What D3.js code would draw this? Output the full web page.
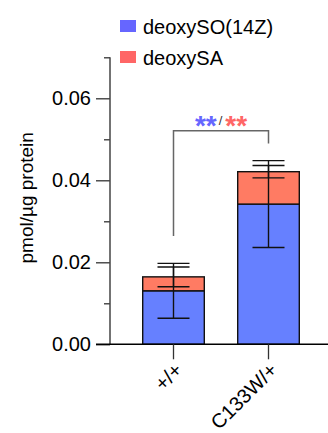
<!DOCTYPE html>
<html>
<head>
<meta charset="utf-8">
<script src="https://cdn.jsdelivr.net/npm/d3@7"></script>
<style>
  html, body { margin: 0; padding: 0; background: #fff; }
  svg { display: block; font-family: "Liberation Sans", Arial, Helvetica, sans-serif; }
</style>
</head>
<body>
<svg id="chart" width="328" height="433"></svg>
<script>
// Genotypes on the x axis
const categories = ["+/+", "C133W/+"];
// Stacked series: mean and SD (pmol/µg protein)
const deoxySO = [0.01305, 0.0342];
const deoxySOsd = [0.0067, 0.0106];
const deoxySA = [0.0034, 0.0079];
const deoxySAsd = [0.0024, 0.0015];
const seriesNames = ["deoxySO(14Z)", "deoxySA"];
const yTicks = [0, 0.02, 0.04, 0.06];
const yMinorTicks = [0.01, 0.03, 0.05, 0.07];

const barColors = ["#6680FF", "#FF7B63"];
const legendColors = ["#6666FF", "#FF6666"];

const svg = d3.select("#chart");

const y = d3.scaleLinear().domain([0, 0.07]).range([344.3, 57.3]);
const x = d3.scalePoint().domain(categories).range([173.5, 268.5]);
const barW = 61.6;
const axisX = 110;

// Stacked layout
const rows = categories.map((c, i) => ({ cat: c, so: deoxySO[i], sa: deoxySA[i], soSd: deoxySOsd[i], saSd: deoxySAsd[i] }));
const stack = d3.stack().keys(["so", "sa"])(rows);

const gBars = svg.append("g");
stack.forEach((layer, k) => {
  gBars.selectAll(null).data(layer).join("rect")
    .attr("x", d => x(d.data.cat) - barW / 2)
    .attr("y", d => y(d[1]))
    .attr("width", barW)
    .attr("height", d => y(d[0]) - y(d[1]))
    .attr("fill", barColors[k])
    .attr("stroke", "#111")
    .attr("stroke-width", 1.4);
});

// Error bars (mean ± SD), drawn at the top of each segment
const capHalf = 16;
const gErr = svg.append("g").attr("stroke", "#111").attr("stroke-width", 1.4);
stack.forEach((layer, k) => {
  layer.forEach(d => {
    const sd = k === 0 ? d.data.soSd : d.data.saSd;
    const cx = x(d.data.cat);
    const lo = y(d[1] - sd), hi = y(d[1] + sd);
    gErr.append("line").attr("x1", cx).attr("x2", cx).attr("y1", lo).attr("y2", hi);
    gErr.append("line").attr("x1", cx - capHalf).attr("x2", cx + capHalf).attr("y1", lo).attr("y2", lo);
    gErr.append("line").attr("x1", cx - capHalf).attr("x2", cx + capHalf).attr("y1", hi).attr("y2", hi);
  });
});

// Y axis
const gY = svg.append("g").attr("transform", `translate(${axisX},0)`);
gY.call(d3.axisLeft(y).tickValues(yTicks).tickFormat(d3.format(".2f")).tickSize(14).tickPadding(5))
  .call(g => g.select(".domain").remove());
gY.selectAll(".tick line").attr("stroke", "#333").attr("stroke-width", 1.3);
gY.selectAll(".tick text").attr("font-size", 20).attr("fill", "#000")
  .attr("font-family", "'Liberation Sans', Arial, sans-serif");
gY.append("g").call(d3.axisLeft(y).tickValues(yMinorTicks).tickFormat("").tickSize(6))
  .call(g => g.select(".domain").remove())
  .selectAll("line").attr("stroke", "#333").attr("stroke-width", 1.3);
gY.append("line").attr("x1", 0).attr("x2", 0).attr("y1", y(0.07)).attr("y2", y(0))
  .attr("stroke", "#444").attr("stroke-width", 1.5);

// X axis
const gX = svg.append("g").attr("transform", `translate(0,${y(0)})`);
gX.append("line").attr("x1", 96).attr("x2", 328).attr("y1", 0).attr("y2", 0)
  .attr("stroke", "#000").attr("stroke-width", 1.5);
gX.selectAll(".xt").data(categories).join("line")
  .attr("x1", d => x(d)).attr("x2", d => x(d)).attr("y1", 0).attr("y2", 15)
  .attr("stroke", "#333").attr("stroke-width", 1.3);
gX.selectAll(".xl").data(categories).join("text")
  .attr("transform", d => `translate(${x(d) + 5},${22}) rotate(-45)`)
  .attr("text-anchor", "end")
  .attr("dy", "0.35em")
  .attr("font-size", 20)
  .text(d => d);

// Y axis title
svg.append("text")
  .attr("transform", `translate(33,${y(0.035) - 3}) rotate(-90)`)
  .attr("text-anchor", "middle")
  .attr("font-size", 19)
  .text("pmol/µg protein");

// Significance bracket
const bx1 = x(categories[0]), bx2 = x(categories[1]);
svg.append("path")
  .attr("d", `M${bx1},${y(0.0264)}V${y(0.0521)}H${bx2}V${y(0.049)}`)
  .attr("fill", "none").attr("stroke", "#666").attr("stroke-width", 1.5);
const sig = svg.append("text").attr("x", (bx1 + bx2) / 2).attr("y", 135)
  .attr("text-anchor", "middle").attr("font-weight", "bold");
sig.append("tspan").attr("fill", legendColors[0]).attr("font-size", 28).text("**");
sig.append("tspan").attr("fill", "#333").attr("font-size", 13).attr("font-weight", "normal")
  .attr("dx", 2).attr("dy", -10).text("/");
sig.append("tspan").attr("fill", legendColors[1]).attr("font-size", 28)
  .attr("dx", 3).attr("dy", 10).text("**");

// Legend
const gL = svg.append("g");
seriesNames.forEach((name, i) => {
  const ty = 20 + i * 31;
  gL.append("rect").attr("x", 120).attr("y", ty).attr("width", 16).attr("height", 12)
    .attr("fill", legendColors[i]);
  gL.append("text").attr("x", 143).attr("y", ty + 13.5).attr("font-size", 20).text(name);
});
</script>
</body>
</html>
